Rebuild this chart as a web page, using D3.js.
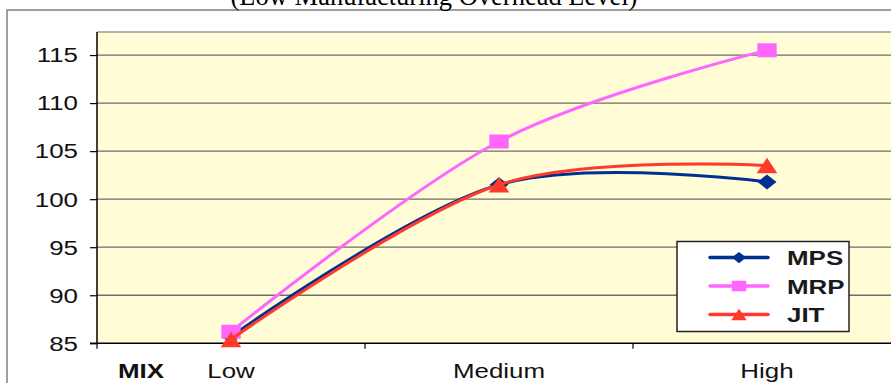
<!DOCTYPE html>
<html>
<head>
<meta charset="utf-8">
<script src="https://cdn.jsdelivr.net/npm/d3@7"></script>
<style>
  html, body { margin: 0; padding: 0; background: #fff; overflow: hidden; }
  svg { display: block; }
</style>
</head>
<body>
<svg id="chart" width="891" height="383"></svg>
<script>
// Cost index by product mix level for three production planning systems
const categories = ["Low", "Medium", "High"];
const mps = [85.7, 101.5, 101.8];
const mrp = [86.2, 106.0, 115.5];
const jit = [85.4, 101.5, 103.5];
const yTicks = [85, 90, 95, 100, 105, 110, 115];
const seriesNames = ["MPS", "MRP", "JIT"];

const series = [
  { name: seriesNames[0], values: mps, color: "#00308F", marker: "diamond" },
  { name: seriesNames[1], values: mrp, color: "#FF66FF", marker: "square" },
  { name: seriesNames[2], values: jit, color: "#FF3A2A", marker: "triangle" }
];

const svg = d3.select("#chart");
const W = 891, H = 383;
const plot = { left: 97, right: 901, top: 32, bottom: 343.3 };
const stretch = 1.33;           // chart text is drawn horizontally widened
const sans = "Arial, 'Liberation Sans', sans-serif";

// Outer chart frame (only left and top edges are in view)
svg.append("path")
  .attr("d", `M7,${H} V10 H${W}`)
  .attr("fill", "none").attr("stroke", "#808080").attr("stroke-width", 1.5);

// Caption above the chart
svg.append("text")
  .attr("x", 434).attr("y", 4.5)
  .attr("text-anchor", "middle")
  .attr("font-family", "'Liberation Serif', 'Times New Roman', serif")
  .attr("font-size", 26.5)
  .attr("fill", "#000")
  .text("(Low Manufacturing Overhead Level)");

const x = d3.scalePoint().domain(categories).range([plot.left, plot.right]).padding(0.5);
const band = d3.scaleBand().domain(categories).range([plot.left, plot.right]);
const y = d3.scaleLinear().domain([85, 117.4]).range([plot.bottom, plot.top]);

// Plot area
svg.append("rect")
  .attr("x", plot.left).attr("y", plot.top)
  .attr("width", plot.right - plot.left).attr("height", plot.bottom - plot.top)
  .attr("fill", "#FFFCD6");
svg.append("line")
  .attr("x1", plot.left).attr("x2", W).attr("y1", plot.top).attr("y2", plot.top)
  .attr("stroke", "#999").attr("stroke-width", 1.5);

// Horizontal gridlines
svg.append("g").selectAll("line")
  .data(yTicks.filter(d => d > 85))
  .join("line")
  .attr("x1", plot.left).attr("x2", W)
  .attr("y1", d => y(d)).attr("y2", d => y(d))
  .attr("stroke", "#6e6e6e").attr("stroke-width", 1.3);

// Y axis
const yAxis = svg.append("g")
  .attr("transform", `translate(${plot.left},0)`)
  .call(d3.axisLeft(y).tickValues(yTicks).tickSize(7).tickPadding(0).tickFormat(d3.format("d")));
yAxis.select(".domain").attr("d", `M0,${plot.top}V${plot.bottom}`).attr("stroke", "#000").attr("stroke-width", 1.5);
yAxis.selectAll(".tick line").attr("stroke", "#000").attr("stroke-width", 1.2);
yAxis.selectAll(".tick text").remove();
yAxis.selectAll(".tick").append("text")
  .attr("transform", `translate(-19,0) scale(${stretch},1)`)
  .attr("dy", "0.35em")
  .attr("text-anchor", "end")
  .attr("font-family", sans).attr("font-size", 19.5).attr("fill", "#111")
  .text(d => d);

// X axis: boundary ticks between categories, labels centred on categories
const xAxis = svg.append("g").attr("transform", `translate(0,${plot.bottom})`);
xAxis.append("line")
  .attr("x1", plot.left - 7).attr("x2", W).attr("y1", 0).attr("y2", 0)
  .attr("stroke", "#000").attr("stroke-width", 1.5);
xAxis.selectAll("line.bnd")
  .data(categories.map(c => band(c)))
  .join("line").attr("class", "bnd")
  .attr("x1", d => d).attr("x2", d => d).attr("y1", 0).attr("y2", 5.5)
  .attr("stroke", "#000").attr("stroke-width", 1.2);
xAxis.selectAll("text.cat")
  .data(categories)
  .join("text").attr("class", "cat")
  .attr("transform", d => `translate(${x(d)},35) scale(${stretch},1)`)
  .attr("text-anchor", "middle")
  .attr("font-family", sans).attr("font-size", 19.5).attr("fill", "#111")
  .text(d => d);
xAxis.append("text")
  .attr("transform", `translate(118,35) scale(${stretch},1)`)
  .attr("font-family", sans).attr("font-size", 19.5).attr("font-weight", "bold").attr("fill", "#111")
  .text("MIX");

// Marker shapes, centred on the origin
function markerPath(type, s) {
  if (type === "diamond") {
    const w = 9.5 * s, h = 7.5 * s;
    return `M0,${-h}L${w},0L0,${h}L${-w},0Z`;
  }
  if (type === "square") {
    const w = 9.7 * s, h = 7 * s;
    return `M${-w},${-h}H${w}V${h}H${-w}Z`;
  }
  const w = 10.3 * s, h = 7.8 * s;
  return `M0,${-h}L${w},${h}L${-w},${h}Z`;
}

// Series lines (smoothed) and markers
const line = d3.line()
  .x((d, i) => x(categories[i]))
  .y(d => y(d))
  .curve(d3.curveCardinal.tension(0));

const gSeries = svg.append("g");
series.forEach(s => {
  const g = gSeries.append("g");
  g.append("path")
    .attr("d", line(s.values))
    .attr("fill", "none")
    .attr("stroke", s.color)
    .attr("stroke-width", 3)
    .attr("stroke-linejoin", "round");
  g.selectAll("path.mk")
    .data(s.values)
    .join("path").attr("class", "mk")
    .attr("transform", (d, i) => `translate(${x(categories[i])},${y(d)})`)
    .attr("d", markerPath(s.marker, 1))
    .attr("fill", s.color);
});

// Legend
const legend = svg.append("g").attr("transform", "translate(677,241.5)");
legend.append("rect")
  .attr("width", 172).attr("height", 90)
  .attr("fill", "#fff").attr("stroke", "#222").attr("stroke-width", 1.5);
const rowY = d3.scalePoint().domain(seriesNames).range([16, 73]);
series.forEach(s => {
  const r = legend.append("g").attr("transform", `translate(0,${rowY(s.name)})`);
  r.append("line")
    .attr("x1", 33).attr("x2", 91)
    .attr("stroke", s.color).attr("stroke-width", 3.5).attr("stroke-linecap", "round");
  r.append("path")
    .attr("transform", "translate(62,0)")
    .attr("d", markerPath(s.marker, 0.75))
    .attr("fill", s.color);
  r.append("text")
    .attr("transform", `translate(110,7.5) scale(${stretch},1)`)
    .attr("font-family", sans).attr("font-size", 19.5).attr("font-weight", "bold").attr("fill", "#1a1a1a")
    .text(s.name);
});
</script>
</body>
</html>
